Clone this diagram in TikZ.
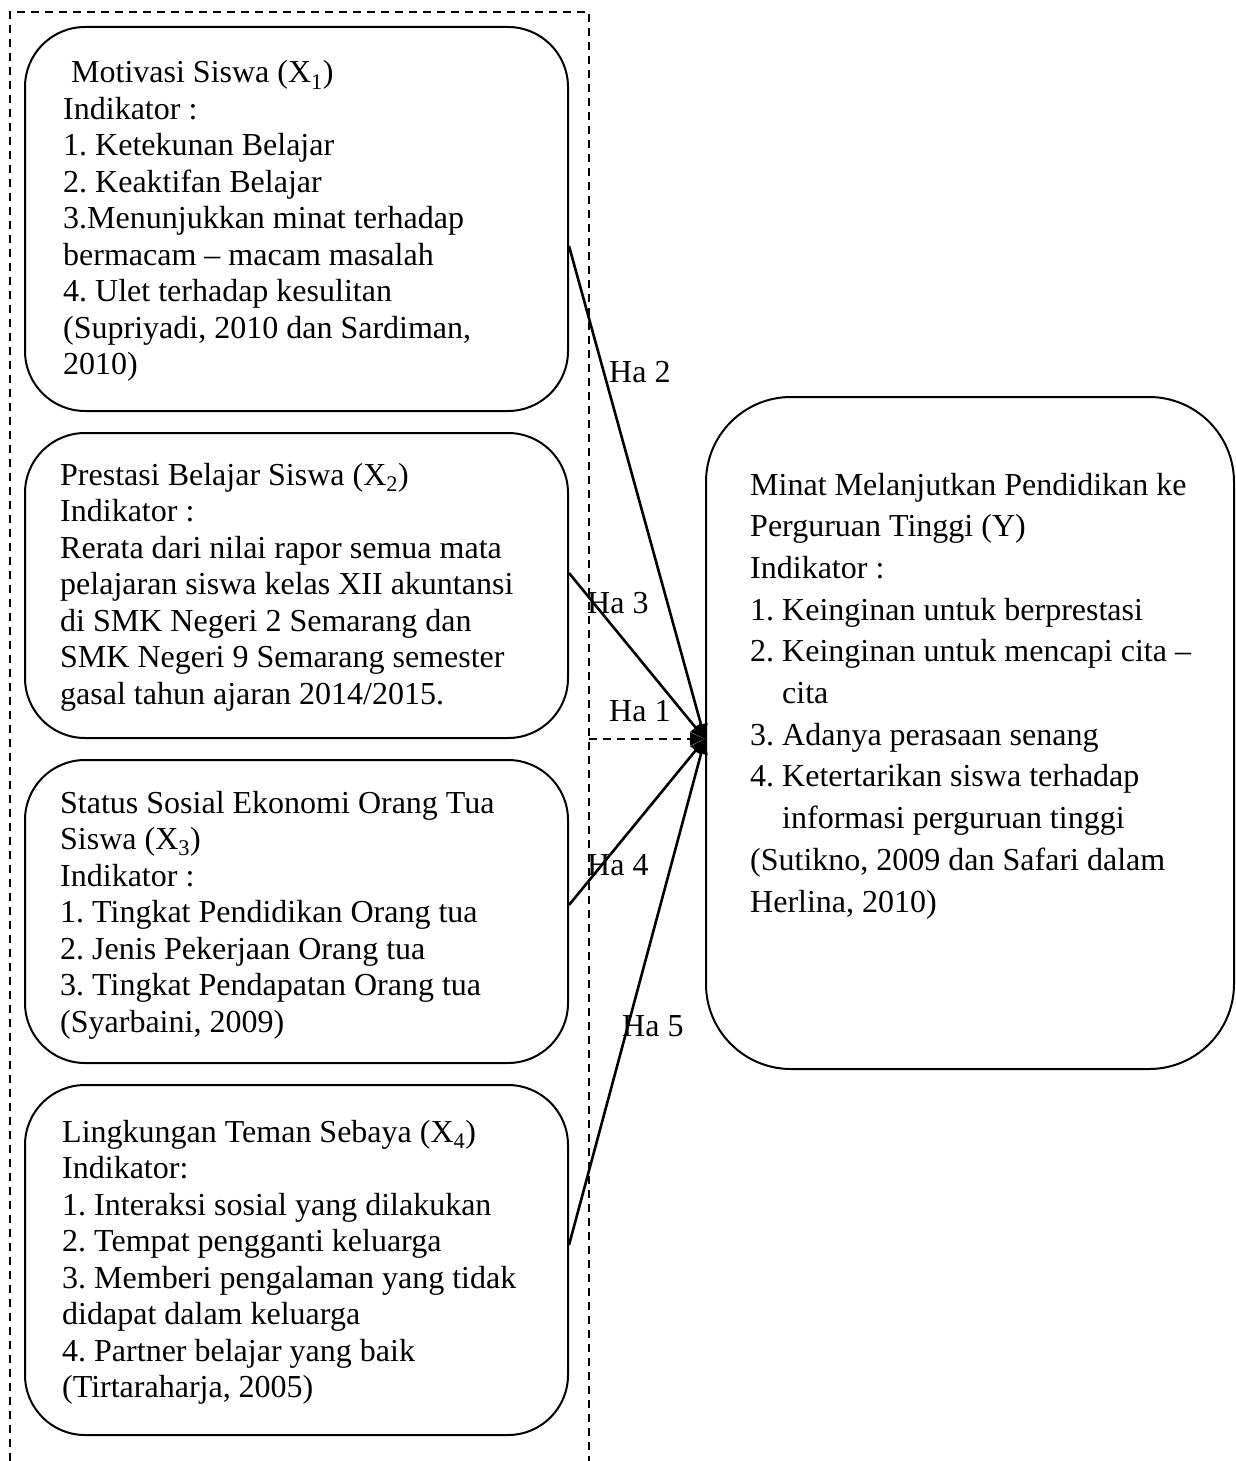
\documentclass[tikz,border=0pt]{standalone}
\usepackage{fontspec}
\setmainfont{Liberation Serif}
\usetikzlibrary{arrows.meta}
\frenchspacing
\begin{document}
\begin{tikzpicture}[x=1pt,y=-1pt,
  box/.style={draw, line width=2pt, rounded corners=60pt, inner sep=0pt},
  ybox/.style={draw, line width=2pt, rounded corners=85pt, inner sep=0pt},
  txt/.style={anchor=base west, inner sep=0pt, font=\fontsize{32}{36.5}\selectfont\frenchspacing},
  ytxt/.style={anchor=base west, inner sep=0pt, font=\fontsize{32}{41.7}\selectfont\frenchspacing},
  lbl/.style={anchor=base west, inner sep=0pt, font=\fontsize{32}{36.5}\selectfont},
  conn/.style={line width=2.6pt, -{Triangle[length=15pt,width=13pt]}},
  frame/.style={line width=1.6pt, dash pattern=on 8pt off 6pt}
]
\useasboundingbox (0,0) rectangle (1236,1461);
% dashed frame
\draw[frame] (10,1461) -- (10,12) -- (589,12) -- (589,1461);
% boxes
\node[box, minimum width=543pt, minimum height=384pt] (b1) at (296.5,219) {};
\node[box, minimum width=543pt, minimum height=305pt] (b2) at (296.5,585.5) {};
\node[box, minimum width=543pt, minimum height=303pt] (b3) at (296.5,911.5) {};
\node[box, minimum width=543pt, minimum height=350pt] (b4) at (296.5,1260) {};
\node[ybox, minimum width=528pt, minimum height=672pt] (y) at (970,733) {};
% texts
\node[txt] (t1) at (63,83) {\begin{tabular}[t]{@{}l@{}}
\hspace{8pt}Motivasi Siswa (X\textsubscript{1})\\
Indikator :\\
1. Ketekunan Belajar\\
2. Keaktifan Belajar\\
3.Menunjukkan minat terhadap\\
bermacam – macam masalah\\
4. Ulet terhadap kesulitan\\
(Supriyadi, 2010 dan Sardiman,\\
2010)\end{tabular}};
\node[txt] (t2) at (60,485) {\begin{tabular}[t]{@{}l@{}}
Prestasi Belajar Siswa (X\textsubscript{2})\\
Indikator :\\
Rerata dari nilai rapor semua mata\\
pelajaran siswa kelas XII akuntansi\\
di SMK Negeri 2 Semarang dan\\
SMK Negeri 9 Semarang semester\\
gasal tahun ajaran 2014/2015.\end{tabular}};
\node[txt] (t3) at (60,813) {\begin{tabular}[t]{@{}l@{}}
Status Sosial Ekonomi Orang Tua\\
Siswa (X\textsubscript{3})\\
Indikator :\\
1. Tingkat Pendidikan Orang tua\\
2. Jenis Pekerjaan Orang tua\\
3. Tingkat Pendapatan Orang tua\\
(Syarbaini, 2009)\end{tabular}};
\node[txt] (t4) at (62,1142) {\begin{tabular}[t]{@{}l@{}}
Lingkungan Teman Sebaya (X\textsubscript{4})\\
Indikator:\\
1. Interaksi sosial yang dilakukan\\
2. Tempat pengganti keluarga\\
3. Memberi pengalaman yang tidak\\
didapat dalam keluarga\\
4. Partner belajar yang baik\\
(Tirtaraharja, 2005)\end{tabular}};
\node[ytxt] (ty) at (750,495) {\begin{tabular}[t]{@{}l@{}}
Minat Melanjutkan Pendidikan ke\\
Perguruan Tinggi (Y)\\
Indikator :\\
1. Keinginan untuk berprestasi\\
2. Keinginan untuk mencapi cita –\\
\hspace{32pt}cita\\
3. Adanya perasaan senang\\
4. Ketertarikan siswa terhadap\\
\hspace{32pt}informasi perguruan tinggi\\
(Sutikno, 2009 dan Safari dalam\\
Herlina, 2010)\end{tabular}};
% connectors
\coordinate (tip) at ([yshift=-6pt]y.west);
\coordinate (d1) at (589,739);
\draw[conn] ([yshift=-27pt]b1.east) -- (tip);
\draw[conn] ([yshift=12.5pt]b2.east) -- (tip);
\draw[conn] ([yshift=6.5pt]b3.east) -- (tip);
\draw[conn] ([yshift=15pt]b4.east) -- (tip);
\draw[conn, line width=2pt, dash pattern=on 8pt off 6pt] (d1) -- (tip);
% labels
\node[lbl] (h2) at (609,382) {Ha 2};
\node[lbl] (h3) at (587,613) {Ha 3};
\node[lbl] (h1) at (609,721) {Ha 1};
\node[lbl] (h4) at (587,875) {Ha 4};
\node[lbl] (h5) at (622,1036) {Ha 5};
\end{tikzpicture}
\end{document}
